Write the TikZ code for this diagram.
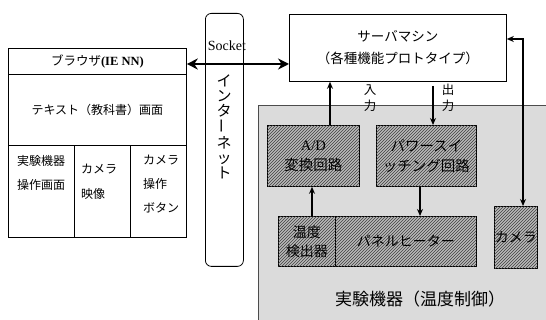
\documentclass[tikz,border=0pt]{standalone}
\usepackage{fontspec}
\setmainfont{Liberation Serif}
\newfontfamily\jp{Noto Sans CJK JP}
\usetikzlibrary{arrows.meta,patterns}
\begin{document}
\begin{tikzpicture}[x=1pt,y=-1pt,
  box/.style={draw=black,line width=0.8pt,inner sep=0pt,anchor=north west,align=center},
  hatch/.style={box,fill=gray!55,postaction={pattern=north east lines,pattern color=black!75}},
  arr/.style={-{Stealth[length=7pt,width=6pt]},line width=1.3pt},
  bigarr/.style={{Stealth[length=11pt,width=11pt]}-{Stealth[length=11pt,width=11pt]},line width=2.8pt},
  txt/.style={inner sep=0pt,align=center}]
\useasboundingbox (0,0) rectangle (546,320);
% shaded equipment region
\node[box,fill=gray!28,draw=black!70,line width=0.6pt,minimum width=300pt,minimum height=230pt] (eq) at (258,105) {};
% browser
\node[box,minimum width=178pt,minimum height=26pt,font=\fontsize{12.5}{14}\selectfont] (hdr) at (8,48) {{\jp ブラウザ}\textbf{(IE NN)}};
\node[box,minimum width=178pt,minimum height=71pt,font=\jp\fontsize{12}{14}\selectfont] (scr) at (8,74) {テキスト（教科書）画面};
\node[box,minimum width=66pt,minimum height=92pt] (c1) at (8,145) {};
\node[box,minimum width=56pt,minimum height=92pt] (c2) at (74,145) {};
\node[box,minimum width=56pt,minimum height=92pt] (c3) at (130,145) {};
\node[txt,align=left,anchor=north,font=\jp\fontsize{12}{24}\selectfont] (t1) at (41,155) {実験機器\\操作画面};
\node[txt,align=left,anchor=north,font=\jp\fontsize{12}{25}\selectfont] (t2) at (99,164) {カメラ\\映像};
\node[txt,align=left,anchor=north,font=\jp\fontsize{12}{24}\selectfont] (t3) at (161,155) {カメラ\\操作\\ボタン};
% internet
\node[box,rounded corners=6pt,minimum width=38pt,minimum height=253pt] (net) at (205,13) {};
\node[txt,anchor=north,font=\jp\fontsize{15}{15}\selectfont] (nett) at (224,75) {イ\\ン\\タ\\\rotatebox{90}{ー}\\ネ\\ッ\\ト};
\node[txt,font=\fontsize{14}{16}\selectfont] (sock) at (227,46) {Socket};
% server
\node[box,fill=white,minimum width=217pt,minimum height=67pt,font=\jp\fontsize{13.5}{22}\selectfont] (srv) at (289,14) {サーバマシン\\（各種機能プロトタイプ）};
% equipment
\node[hatch,minimum width=92pt,minimum height=61pt,font=\jp\fontsize{14.5}{20}\selectfont] (ad) at (267,125) {{\rmfamily A/D}\\変換回路};
\node[hatch,minimum width=100pt,minimum height=61pt,font=\jp\fontsize{14.5}{20}\selectfont] (ps) at (376,125) {パワースイ\\ッチング回路};
\node[hatch,minimum width=57pt,minimum height=50pt,font=\jp\fontsize{14}{19}\selectfont] (td) at (278,216) {温度\\検出器};
\node[hatch,minimum width=141pt,minimum height=50pt,font=\jp\fontsize{14}{16}\selectfont] (ph) at (335,216) {パネルヒーター};
\node[hatch,minimum width=43pt,minimum height=62pt,font=\jp\fontsize{14}{16}\selectfont] (cam) at (494,206) {カメラ};
\node[txt,font=\jp\fontsize{17}{20}\selectfont] (eqt) at (420,299) {実験機器（温度制御）};
\node[txt,font=\jp\fontsize{12.5}{16}\selectfont] (in) at (370,98) {入\\力};
\node[txt,font=\jp\fontsize{12.5}{16}\selectfont] (out) at (448,98) {出\\力};
% coordinates for connectors
\coordinate (sy) at (0,64);
\coordinate (xin) at (330,0);
\coordinate (xout) at (433,0);
\coordinate (xtd) at (312,0);
\coordinate (xps) at (420,0);
\coordinate (bend) at (523,39);
% connectors
\draw[bigarr] (hdr.east |- sy) -- (srv.west |- sy);
\draw[arr] (ad.north -| xin) -- (srv.south -| xin);
\draw[arr] ([yshift=-4pt]srv.south -| xout) -- (ps.north -| xout);
\draw[arr] (td.north -| xtd) -- (ad.south -| xtd);
\draw[arr] (ps.south -| xps) -- (ph.north -| xps);
\draw[arr,{Stealth[length=7pt,width=6pt]}-{Stealth[length=7pt,width=6pt]}] (srv.east |- bend) -- (bend) -- (cam.north -| bend);
\end{tikzpicture}
\end{document}
